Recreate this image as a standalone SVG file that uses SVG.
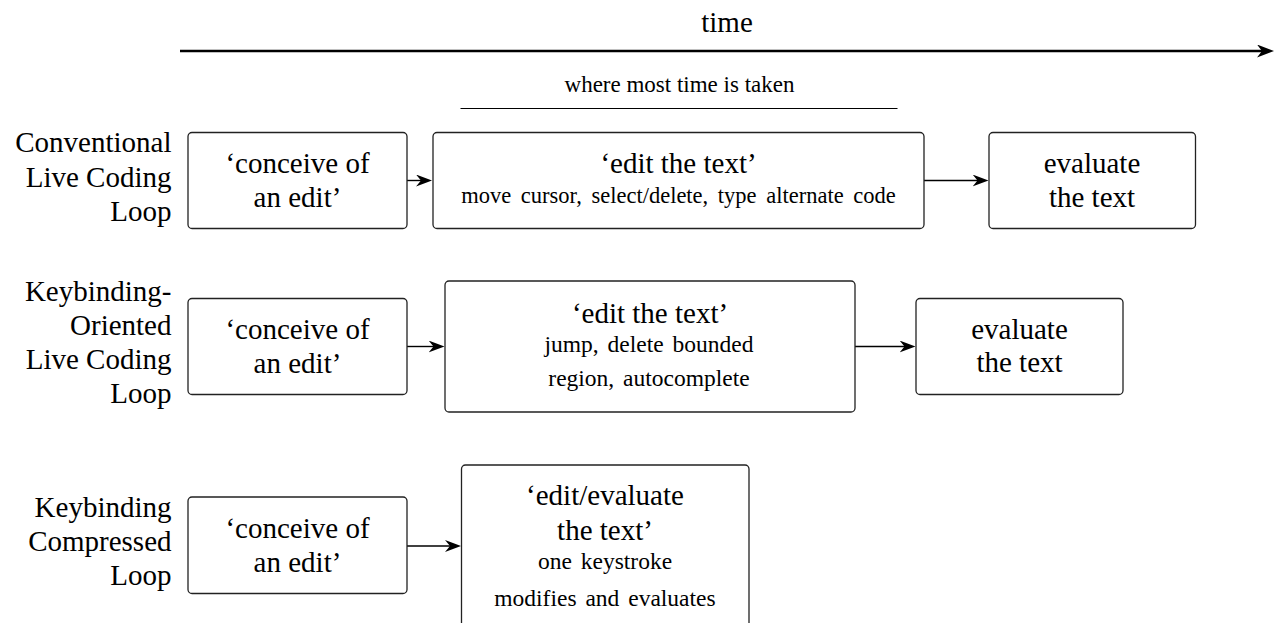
<svg xmlns="http://www.w3.org/2000/svg" width="1276" height="623" viewBox="0 0 1276 623">
  <style>
    .box { fill: #fff; stroke: #222; stroke-width: 1.3; }
    .arr { stroke: #000; stroke-width: 1.4; fill: none; }
  </style>
  <defs>
    <marker id="ah" markerUnits="userSpaceOnUse" viewBox="-16 -6 16 12" markerWidth="16" markerHeight="12" refX="-8" refY="0" orient="auto">
      <path d="M0,0 L-16,-6 L-11,0 L-16,6 Z" fill="#000"/>
    </marker>
    <marker id="ahT" markerUnits="userSpaceOnUse" viewBox="-17 -6.5 17 13" markerWidth="17" markerHeight="13" refX="-8" refY="0" orient="auto">
      <path d="M0,0 L-17,-6.5 L-12,0 L-17,6.5 Z" fill="#000"/>
    </marker>
  </defs>
  <rect width="1276" height="623" fill="#fff"/>

  <g id="timeline">
    <text style="font-family: 'Liberation Serif', serif; font-size: 29px; text-anchor: middle" x="727" y="32">time</text>
    <line x1="180" y1="51" x2="1266" y2="51" stroke="#000" stroke-width="2.4" marker-end="url(#ahT)"/>
    <text style="font-family: 'Liberation Serif', serif; font-size: 23px; text-anchor: middle" x="679.5" y="92">where most time is taken</text>
    <line x1="460.5" y1="108.5" x2="897.5" y2="108.5" stroke="#000" stroke-width="1"/>
  </g>

  <g id="labels">
    <text style="font-family: 'Liberation Serif', serif; font-size: 29px; text-anchor: end" x="171.5" y="152">Conventional</text>
    <text style="font-family: 'Liberation Serif', serif; font-size: 29px; text-anchor: end" x="171.5" y="186.5">Live Coding</text>
    <text style="font-family: 'Liberation Serif', serif; font-size: 29px; text-anchor: end" x="171.5" y="221">Loop</text>

    <text style="font-family: 'Liberation Serif', serif; font-size: 29px; text-anchor: end" x="171.5" y="301">Keybinding-</text>
    <text style="font-family: 'Liberation Serif', serif; font-size: 29px; text-anchor: end" x="171.5" y="335">Oriented</text>
    <text style="font-family: 'Liberation Serif', serif; font-size: 29px; text-anchor: end" x="171.5" y="369">Live Coding</text>
    <text style="font-family: 'Liberation Serif', serif; font-size: 29px; text-anchor: end" x="171.5" y="403">Loop</text>

    <text style="font-family: 'Liberation Serif', serif; font-size: 29px; text-anchor: end" x="171.5" y="516.5">Keybinding</text>
    <text style="font-family: 'Liberation Serif', serif; font-size: 29px; text-anchor: end" x="171.5" y="550.5">Compressed</text>
    <text style="font-family: 'Liberation Serif', serif; font-size: 29px; text-anchor: end" x="171.5" y="584.5">Loop</text>
  </g>

  <g id="connectors">
    <line class="arr" marker-end="url(#ah)" x1="407" y1="180.5" x2="424" y2="180.5"/>
    <line class="arr" marker-end="url(#ah)" x1="924" y1="180.5" x2="980.5" y2="180.5"/>
    <line class="arr" marker-end="url(#ah)" x1="407" y1="346.5" x2="436.5" y2="346.5"/>
    <line class="arr" marker-end="url(#ah)" x1="855" y1="346.5" x2="907.5" y2="346.5"/>
    <line class="arr" marker-end="url(#ah)" x1="407" y1="546" x2="453" y2="546"/>
  </g>

  <g id="conv-conceive">
    <rect class="box" x="188" y="132.5" width="219" height="96" rx="4"/>
    <text style="font-family: 'Liberation Serif', serif; font-size: 29px; text-anchor: middle" x="297.5" y="173">‘conceive of</text>
    <text style="font-family: 'Liberation Serif', serif; font-size: 29px; text-anchor: middle" x="297.5" y="207">an edit’</text>
  </g>
  <g id="conv-edit">
    <rect class="box" x="433" y="132.5" width="491" height="96" rx="4"/>
    <text style="font-family: 'Liberation Serif', serif; font-size: 29px; text-anchor: middle" x="678.5" y="173">‘edit the text’</text>
    <text style="font-family: 'Liberation Serif', serif; font-size: 22.5px; text-anchor: middle; word-spacing: 4px" x="678.5" y="202.5">move cursor, select/delete, type alternate code</text>
  </g>
  <g id="conv-eval">
    <rect class="box" x="989" y="132.5" width="206.5" height="96" rx="4"/>
    <text style="font-family: 'Liberation Serif', serif; font-size: 29px; text-anchor: middle" x="1092" y="173">evaluate</text>
    <text style="font-family: 'Liberation Serif', serif; font-size: 29px; text-anchor: middle" x="1092" y="207">the text</text>
  </g>

  <g id="kbo-conceive">
    <rect class="box" x="188" y="298.5" width="219" height="96" rx="4"/>
    <text style="font-family: 'Liberation Serif', serif; font-size: 29px; text-anchor: middle" x="297.5" y="339">‘conceive of</text>
    <text style="font-family: 'Liberation Serif', serif; font-size: 29px; text-anchor: middle" x="297.5" y="373">an edit’</text>
  </g>
  <g id="kbo-edit">
    <rect class="box" x="445" y="281" width="410" height="131" rx="4"/>
    <text style="font-family: 'Liberation Serif', serif; font-size: 29px; text-anchor: middle" x="650" y="323">‘edit the text’</text>
    <text style="font-family: 'Liberation Serif', serif; font-size: 23.5px; text-anchor: middle; word-spacing: 3px" x="649" y="352">jump, delete bounded</text>
    <text style="font-family: 'Liberation Serif', serif; font-size: 23.5px; text-anchor: middle; word-spacing: 3px" x="649" y="386">region, autocomplete</text>
  </g>
  <g id="kbo-eval">
    <rect class="box" x="916" y="298.5" width="207" height="96" rx="4"/>
    <text style="font-family: 'Liberation Serif', serif; font-size: 29px; text-anchor: middle" x="1019.5" y="338.5">evaluate</text>
    <text style="font-family: 'Liberation Serif', serif; font-size: 29px; text-anchor: middle" x="1019.5" y="372">the text</text>
  </g>

  <g id="kbc-conceive">
    <rect class="box" x="188" y="497" width="219" height="96.5" rx="4"/>
    <text style="font-family: 'Liberation Serif', serif; font-size: 29px; text-anchor: middle" x="297.5" y="537.5">‘conceive of</text>
    <text style="font-family: 'Liberation Serif', serif; font-size: 29px; text-anchor: middle" x="297.5" y="571.5">an edit’</text>
  </g>
  <g id="kbc-editeval">
    <rect class="box" x="461.5" y="465" width="287.5" height="180" rx="4"/>
    <text style="font-family: 'Liberation Serif', serif; font-size: 29px; text-anchor: middle" x="605" y="505">‘edit/evaluate</text>
    <text style="font-family: 'Liberation Serif', serif; font-size: 29px; text-anchor: middle" x="605" y="540">the text’</text>
    <text style="font-family: 'Liberation Serif', serif; font-size: 23.5px; text-anchor: middle; word-spacing: 3px" x="605" y="569">one keystroke</text>
    <text style="font-family: 'Liberation Serif', serif; font-size: 23.5px; text-anchor: middle; word-spacing: 3px" x="605" y="605.5">modifies and evaluates</text>
  </g>
</svg>
